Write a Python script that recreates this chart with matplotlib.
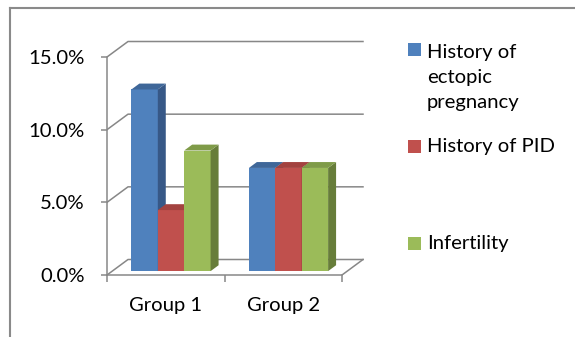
import matplotlib
matplotlib.use("Agg")
import matplotlib.pyplot as plt
from matplotlib.patches import Polygon, Rectangle
from matplotlib.lines import Line2D

# ---- data ----
groups = ["Group 1", "Group 2"]
series = ["History of\nectopic\npregnancy", "History of PID", "Infertility"]
ectopic = [12.5, 7.1]
pid = [4.2, 7.1]
infertility = [8.3, 7.1]
yticks = [0, 5, 10, 15]
ytick_labels = ["0.0%", "5.0%", "10.0%", "15.0%"]

front_colors = ["#4F81BD", "#C0504D", "#9BBB59"]
side_colors = ["#375887", "#8C3836", "#677D3A"]
top_colors = ["#3F6799", "#A3423F", "#7F9B48"]

plt.rcParams['font.family'] = ['Lato', 'DejaVu Sans']
FS = 14.6

W, H = 575, 337
fig = plt.figure(figsize=(W / 100, H / 100), dpi=100)
px_cat, px_pct = 117.5, 14.533
x0px, y0px = 107, 275
xmax, ymax = 2.25, 16.4
ax = fig.add_axes([x0px / W, (H - y0px) / H, xmax * px_cat / W, ymax * px_pct / H])
ax.set_xlim(0, xmax)
ax.set_ylim(0, ymax)
ax.patch.set_alpha(0)

DX = 21 / px_cat
DY = 15.5 / px_pct
grid_c = "#878787"
lw = 1.1

# back wall gridlines with side diagonals
for v in yticks:
    ax.plot([0, DX, 2 + DX], [v, v + DY, v + DY], color=grid_c, lw=lw, zorder=1)
# floor right edge
ax.plot([2, 2 + DX], [0, DY], color=grid_c, lw=lw, zorder=1)

# bars (pseudo 3D)
d0, bd = 0.25, 0.38
w = 0.2247
all_vals = [ectopic, pid, infertility]
for i, vals in enumerate(all_vals):
    xs = [g + 0.5 + (i - 1.5) * w + d0 * DX for g in range(len(groups))]
    yb = d0 * DY
    ax.bar(xs, vals, width=w, bottom=yb, align='edge', color=front_colors[i],
           linewidth=0, zorder=3 + i)
    ddx, ddy = bd * DX, bd * DY
    for xl, v in zip(xs, vals):
        xr = xl + w
        top = yb + v
        ax.add_patch(Polygon([(xr, yb), (xr + ddx, yb + ddy), (xr + ddx, top + ddy), (xr, top)],
                             closed=True, facecolor=side_colors[i], edgecolor='none', zorder=3 + i))
        ax.add_patch(Polygon([(xl, top), (xr, top), (xr + ddx, top + ddy), (xl + ddx, top + ddy)],
                             closed=True, facecolor=top_colors[i], edgecolor='none', zorder=3 + i))

# axes
for s in ['top', 'right']:
    ax.spines[s].set_visible(False)
for s in ['left', 'bottom']:
    ax.spines[s].set_color(grid_c)
    ax.spines[s].set_linewidth(lw)
ax.spines['left'].set_bounds(0, 15)
ax.spines['bottom'].set_bounds(0, 2)

ax.set_yticks(yticks)
ax.set_yticklabels(ytick_labels)
ax.tick_params(axis='y', length=4.5, width=lw, color=grid_c, pad=11.5, labelsize=FS)
ax.set_xticks([0.5, 1.5])
ax.set_xticklabels(groups)
ax.set_xticks([0, 1, 2], minor=True)
ax.tick_params(axis='x', which='major', length=0, pad=16, labelsize=FS)
ax.tick_params(axis='x', which='minor', length=5, width=lw, color=grid_c)

# chart frame (partially visible)
fig.add_artist(Line2D([10 / W, 10 / W], [0, 1 - 8 / H], transform=fig.transFigure,
                      color="#8a8a8a", lw=1.5))
fig.add_artist(Line2D([10 / W, 1], [1 - 8 / H, 1 - 8 / H], transform=fig.transFigure,
                      color="#8a8a8a", lw=1.5))

# legend
leg_y = [49.5, 146, 243.5]
text_y = [77.5, 146, 243.5]
for i, name in enumerate(series):
    fig.add_artist(Rectangle((408 / W, 1 - (leg_y[i] + 6.5) / H), 13 / W, 13 / H,
                             transform=fig.transFigure, facecolor=front_colors[i],
                             edgecolor='none'))
    fig.text(427 / W, 1 - text_y[i] / H, name, fontsize=FS, va='center', ha='left',
             linespacing=1.58)

fig.savefig("out.png", dpi=100)
